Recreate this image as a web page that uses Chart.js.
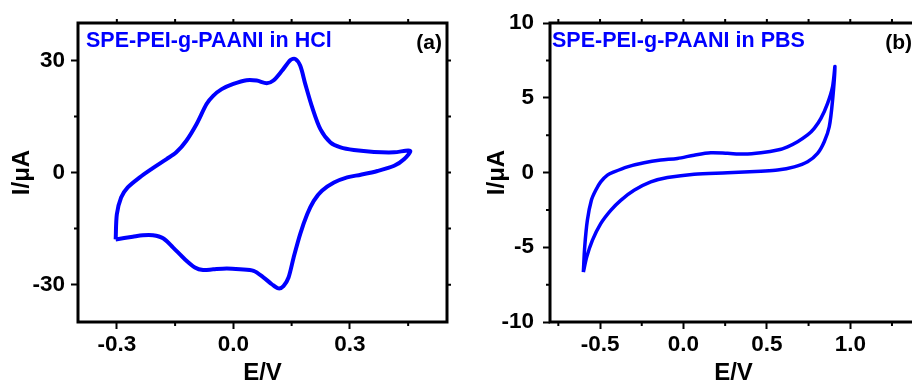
<!DOCTYPE html>
<html>
<head>
<meta charset="utf-8">
<script src="https://cdn.jsdelivr.net/npm/chart.js@4.4.0/dist/chart.umd.min.js"></script>
<style>
  html, body { margin: 0; padding: 0; background: #fff; }
  body { width: 912px; height: 385px; overflow: hidden; position: relative; }
  canvas { position: absolute; top: 0; }
  #chartA { left: 0; }
  #chartB { left: 460px; }
</style>
</head>
<body>
<canvas id="chartA" width="460" height="385"></canvas>
<canvas id="chartB" width="470" height="385"></canvas>
<script>
// (a) SPE-PEI-g-PAANI in HCl - potential (V) / current (uA), forward sweep then back
var hclE = [-0.303, -0.300, -0.289, -0.272, -0.241, -0.211, -0.172, -0.147, -0.121, -0.095,
            -0.069, -0.052, -0.030, 0.000, 0.034, 0.060, 0.086, 0.103, 0.125, 0.147,
            0.159, 0.172, 0.185, 0.203, 0.224, 0.250, 0.276, 0.310, 0.362, 0.414,
            0.455, 0.440, 0.414, 0.371, 0.328, 0.293, 0.259, 0.228, 0.207, 0.190,
            0.172, 0.155, 0.142, 0.129, 0.116, 0.099, 0.078, 0.052, 0.017, -0.017,
            -0.052, -0.078, -0.099, -0.125, -0.155, -0.181, -0.207, -0.233, -0.259, -0.303];
var hclI = [-17.9, -11.2, -6.7, -4.0, -1.3, 0.9, 3.6, 5.4, 8.5, 12.9,
            18.3, 20.5, 22.3, 23.7, 24.7, 24.6, 23.9, 24.6, 27.2, 30.1,
            30.4, 28.6, 23.7, 17.4, 11.6, 8.0, 6.7, 6.0, 5.5, 5.4,
            5.8, 3.6, 1.8, 0.4, -0.6, -1.3, -2.7, -4.9, -7.6, -11.2,
            -16.5, -22.8, -28.1, -30.4, -31.0, -29.9, -28.1, -26.3, -25.9, -25.7,
            -25.9, -26.1, -25.4, -23.2, -20.1, -17.6, -16.8, -16.8, -17.2, -17.9];
var hclXTicks = [-0.3, 0.0, 0.3];
var hclXMinor = [-0.15, 0.15, 0.45];
var hclYTicks = [-30, 0, 30];
var hclYMinor = [-15, 15];

// (b) SPE-PEI-g-PAANI in PBS
var pbsE = [-0.600, -0.592, -0.576, -0.552, -0.526, -0.496, -0.456, -0.416, -0.336, -0.236,
            -0.136, -0.036, 0.064, 0.164, 0.264, 0.364, 0.464, 0.564, 0.624, 0.684,
            0.744, 0.784, 0.824, 0.864, 0.894, 0.908, 0.894, 0.874, 0.844, 0.804,
            0.744, 0.664, 0.564, 0.464, 0.264, 0.064, -0.096, -0.196, -0.296, -0.376,
            -0.436, -0.496, -0.546, -0.580, -0.600];
var pbsI = [-6.67, -4.99, -3.20, -1.86, -1.19, -0.63, -0.18, 0.04, 0.38, 0.65,
            0.83, 0.94, 1.16, 1.32, 1.28, 1.23, 1.32, 1.50, 1.72, 2.06,
            2.51, 2.95, 3.62, 4.63, 5.75, 7.09, 4.85, 3.06, 2.06, 1.28,
            0.72, 0.38, 0.16, 0.09, -0.02, -0.11, -0.34, -0.63, -1.19, -1.86,
            -2.53, -3.42, -4.54, -5.66, -6.67];
var pbsXTicks = [-0.5, 0.0, 0.5, 1.0];
var pbsXMinor = [-0.75, -0.25, 0.25, 0.75, 1.25];
var pbsYTicks = [-10, -5, 0, 5, 10];
var pbsYMinor = [-7.5, -2.5, 2.5, 7.5];

var FONT = "'Liberation Sans', Arial, sans-serif";
Chart.defaults.font.family = FONT;
Chart.defaults.color = '#000';

function toPoints(xs, ys) {
    return xs.map(function (x, i) { return {x: x, y: ys[i]}; });
}

// box around the plot, minor ticks, mirrored ticks, text labels
var framePlugin = {
    id: 'frame',
    afterDraw: function (chart, args, o) {
        var ctx = chart.ctx, a = chart.chartArea;
        var xs = chart.scales.x, ys = chart.scales.y;
        ctx.save();
        ctx.strokeStyle = '#000';
        ctx.lineWidth = 2;
        ctx.beginPath();
        o.xMinor.forEach(function (v) {
            var px = xs.getPixelForValue(v);
            ctx.moveTo(px, a.bottom); ctx.lineTo(px, a.bottom + 4);
        });
        o.xMinor.concat(o.xMajor).forEach(function (v) {
            var px = xs.getPixelForValue(v);
            ctx.moveTo(px, a.top); ctx.lineTo(px, a.top - 4);
        });
        o.yMinor.forEach(function (v) {
            var py = ys.getPixelForValue(v);
            ctx.moveTo(a.left, py); ctx.lineTo(a.left - 4, py);
        });
        o.yMinor.concat(o.yMajor).forEach(function (v) {
            var py = ys.getPixelForValue(v);
            ctx.moveTo(a.right, py); ctx.lineTo(a.right + 4, py);
        });
        ctx.stroke();
        ctx.lineWidth = 3;
        ctx.strokeRect(a.left, a.top, a.right - a.left, a.bottom - a.top);

        ctx.textBaseline = 'alphabetic';
        ctx.font = 'bold 21.5px ' + FONT;
        ctx.fillStyle = '#0000ff';
        ctx.textAlign = 'left';
        ctx.fillText(o.title, a.left + o.titleDx, a.top + 24);
        ctx.font = 'bold 21px ' + FONT;
        ctx.fillStyle = '#000';
        ctx.textAlign = 'right';
        ctx.fillText(o.tag, a.right - o.tagDx, a.top + 26);
        ctx.restore();
    }
};

function makeChart(id, E, I, cfg) {
    var ctx = document.getElementById(id).getContext('2d');
    return new Chart(ctx, {
        type: 'scatter',
        data: {
            datasets: [{
                data: toPoints(E, I),
                showLine: true,
                borderColor: '#0000ff',
                borderWidth: cfg.lineWidth,
                pointRadius: 0,
                tension: 0.3,
                fill: false
            }]
        },
        options: {
            responsive: false,
            animation: false,
            devicePixelRatio: 1,
            layout: {padding: {top: 23, right: 13, left: 0, bottom: 0}},
            plugins: {
                legend: {display: false},
                tooltip: {enabled: false},
                frame: {
                    title: cfg.title, titleDx: cfg.titleDx,
                    tag: cfg.tag, tagDx: cfg.tagDx,
                    xMajor: cfg.xTicks, xMinor: cfg.xMinor,
                    yMajor: cfg.yTicks, yMinor: cfg.yMinor
                }
            },
            scales: {
                x: {
                    type: 'linear',
                    min: cfg.xMin, max: cfg.xMax,
                    afterFit: function (s) { s.height = 63; },
                    afterBuildTicks: function (s) {
                        s.ticks = cfg.xTicks.map(function (v) { return {value: v}; });
                    },
                    grid: {drawOnChartArea: false, tickLength: 7, tickWidth: 2, tickColor: '#000'},
                    border: {display: false},
                    ticks: {
                        padding: 2,
                        maxRotation: 0,
                        font: {size: 22.5, weight: 'bold'},
                        callback: function (v) { return v.toFixed(1); }
                    },
                    title: {
                        display: true, text: 'E/V',
                        font: {size: 24, weight: 'bold', lineHeight: 1},
                        padding: {top: 0, bottom: 0}
                    }
                },
                y: {
                    type: 'linear',
                    min: cfg.yMin, max: cfg.yMax,
                    afterFit: function (s) { s.width = cfg.yWidth; },
                    afterBuildTicks: function (s) {
                        s.ticks = cfg.yTicks.map(function (v) { return {value: v}; });
                    },
                    grid: {drawOnChartArea: false, tickLength: 7, tickWidth: 2, tickColor: '#000'},
                    border: {display: false},
                    ticks: {
                        padding: cfg.yPad,
                        font: {size: 22.5, weight: 'bold'},
                        callback: function (v) { return String(v); }
                    },
                    title: {
                        display: true, text: 'I/μA',
                        font: {size: 24, weight: 'bold', lineHeight: 1},
                        padding: {top: cfg.yTitlePad, bottom: 0}
                    }
                }
            }
        },
        plugins: [framePlugin]
    });
}

makeChart('chartA', hclE, hclI, {
    title: 'SPE-PEI-g-PAANI in HCl', titleDx: 8, tag: '(a)', tagDx: 5,
    xMin: -0.4, xMax: 0.55, yMin: -40, yMax: 40,
    xTicks: hclXTicks, xMinor: hclXMinor, yTicks: hclYTicks, yMinor: hclYMinor,
    yWidth: 78, yPad: 6, yTitlePad: 10, lineWidth: 4
});

makeChart('chartB', pbsE, pbsI, {
    title: 'SPE-PEI-g-PAANI in PBS', titleDx: 2, tag: '(b)', tagDx: 5,
    xMin: -0.8, xMax: 1.4, yMin: -10, yMax: 10,
    xTicks: pbsXTicks, xMinor: pbsXMinor, yTicks: pbsYTicks, yMinor: pbsYMinor,
    yWidth: 90, yPad: 9, yTitlePad: 25, lineWidth: 3.5
});
</script>
</body>
</html>
